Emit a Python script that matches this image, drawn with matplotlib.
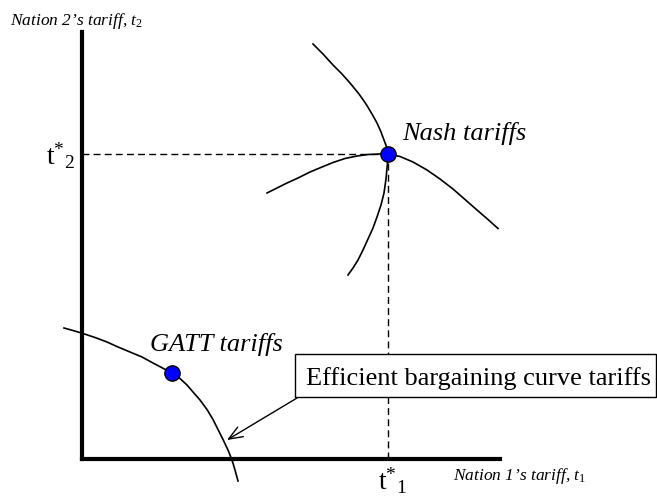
import matplotlib
matplotlib.use("Agg")
import matplotlib.pyplot as plt
from matplotlib.patches import Rectangle

plt.rcParams['mathtext.fontset'] = 'custom'
plt.rcParams['mathtext.rm'] = 'Liberation Serif'
plt.rcParams['mathtext.it'] = 'Liberation Serif:italic'
plt.rcParams['font.family'] = ['Liberation Serif', 'DejaVu Serif']

# ---- data (tariff space, origin at axes corner) ----
nash_t1 = 306
nash_t2 = 305

# Nation 2's reaction curve (steep)
react2_t1 = [231, 241, 251, 260, 268, 277, 284, 290, 295, 299, 302, 305, 306,
             305.5, 304, 302, 299, 295, 291, 286, 281, 276, 271, 266]
react2_t2 = [415, 405, 394, 385, 376, 365, 355, 345, 336, 327, 319, 311, 305,
             296, 280, 266, 254, 242, 231, 220, 209, 199, 191, 184]

# Nation 1's reaction curve (flat, hump)
react1_t1 = [185, 195, 205, 216, 228, 240, 251, 263, 275, 286, 298, 306,
             318, 331, 345, 358, 371, 383, 395, 406, 416]
react1_t2 = [266, 271, 276, 281, 287, 292, 296.5, 300.5, 303, 304.5, 305, 305,
             302.5, 297, 289, 280, 270, 259.5, 249, 239.5, 230.5]

# Efficient bargaining curve
eff_t1 = [-18, -9, 1, 13, 25, 36, 48, 60, 71, 90, 98, 105, 111, 118, 125,
          131, 136, 141, 146, 150, 153, 156]
eff_t2 = [131, 128.5, 125.5, 121.5, 117, 112, 107, 102, 96, 86, 80.5, 74, 67, 59, 49.5,
          39.5, 29.5, 19.5, 9, -1, -11, -22]

gatt_t1 = 90
gatt_t2 = 86

W, H = 657, 497
fig = plt.figure(figsize=(W / 100, H / 100), dpi=100)
ax = fig.add_axes([82 / W, (H - 459) / H, 418 / W, 427 / H])
ax.set_xlim(0, 418)
ax.set_ylim(0, 427)
for s in ['top', 'right']:
    ax.spines[s].set_visible(False)
for s in ['left', 'bottom']:
    ax.spines[s].set_linewidth(3)
    ax.spines[s].set_capstyle('projecting')
ax.set_xticks([])
ax.set_yticks([])
ax.patch.set_alpha(0)

dash = dict(color='black', lw=1.0, dashes=(5, 3), clip_on=False)
ax.plot([0, nash_t1], [nash_t2, nash_t2], **dash)
ax.plot([nash_t1, nash_t1], [0, nash_t2], **dash)

curve = dict(color='black', lw=1.2, clip_on=False, solid_joinstyle='round')
ax.plot(react2_t1, react2_t2, **curve)
ax.plot(react1_t1, react1_t2, **curve)
ax.plot(eff_t1, eff_t2, **curve)

dot = dict(marker='o', markersize=11, markerfacecolor='#0000ff',
           markeredgecolor='black', markeredgewidth=1.0, clip_on=False, zorder=5)
ax.plot([nash_t1], [nash_t2], **dot)
ax.plot([gatt_t1], [gatt_t2], **dot)

# labels
fig.text(10 / W, (H - 25) / H, "Nation 2\u2019s tariff, $t_2$", fontsize=12.5,
         style='italic', ha='left', va='baseline')
fig.text(453 / W, (H - 480) / H, "Nation 1\u2019s tariff, $t_{\\mathit{1}}$", fontsize=12.5,
         style='italic', ha='left', va='baseline')

fig.text(46 / W, (H - 165) / H, r"$\mathrm{t}^{*}{}_{\mathrm{2}}$", fontsize=20,
         ha='left', va='baseline')
fig.text(378 / W, (H - 490) / H, r"$\mathrm{t}^{*}{}_{\mathrm{1}}$", fontsize=20,
         ha='left', va='baseline')

fig.text(402 / W, (H - 140) / H, "Nash tariffs", fontsize=19, style='italic',
         ha='left', va='baseline')
fig.text(150 / W, (H - 351) / H, "GATT tariffs", fontsize=19, style='italic',
         ha='left', va='baseline')

# box label
fig.add_artist(Rectangle((295 / W, (H - 397) / H), (W - 1 - 295) / W, 43 / H,
                         transform=fig.transFigure, facecolor='white',
                         edgecolor='black', lw=1.0))
fig.text(306.5 / W, (H - 385) / H, "Efficient bargaining curve tariffs", fontsize=19,
         ha='left', va='baseline')

ax.annotate("", xy=(227 / W, (H - 440) / H), xycoords='figure fraction',
            xytext=(297 / W, (H - 398) / H), textcoords='figure fraction',
            arrowprops=dict(arrowstyle='->,head_length=1.0,head_width=0.4',
                            color='black', lw=1.0, shrinkA=0, shrinkB=0))

fig.savefig("out.png", dpi=100)
